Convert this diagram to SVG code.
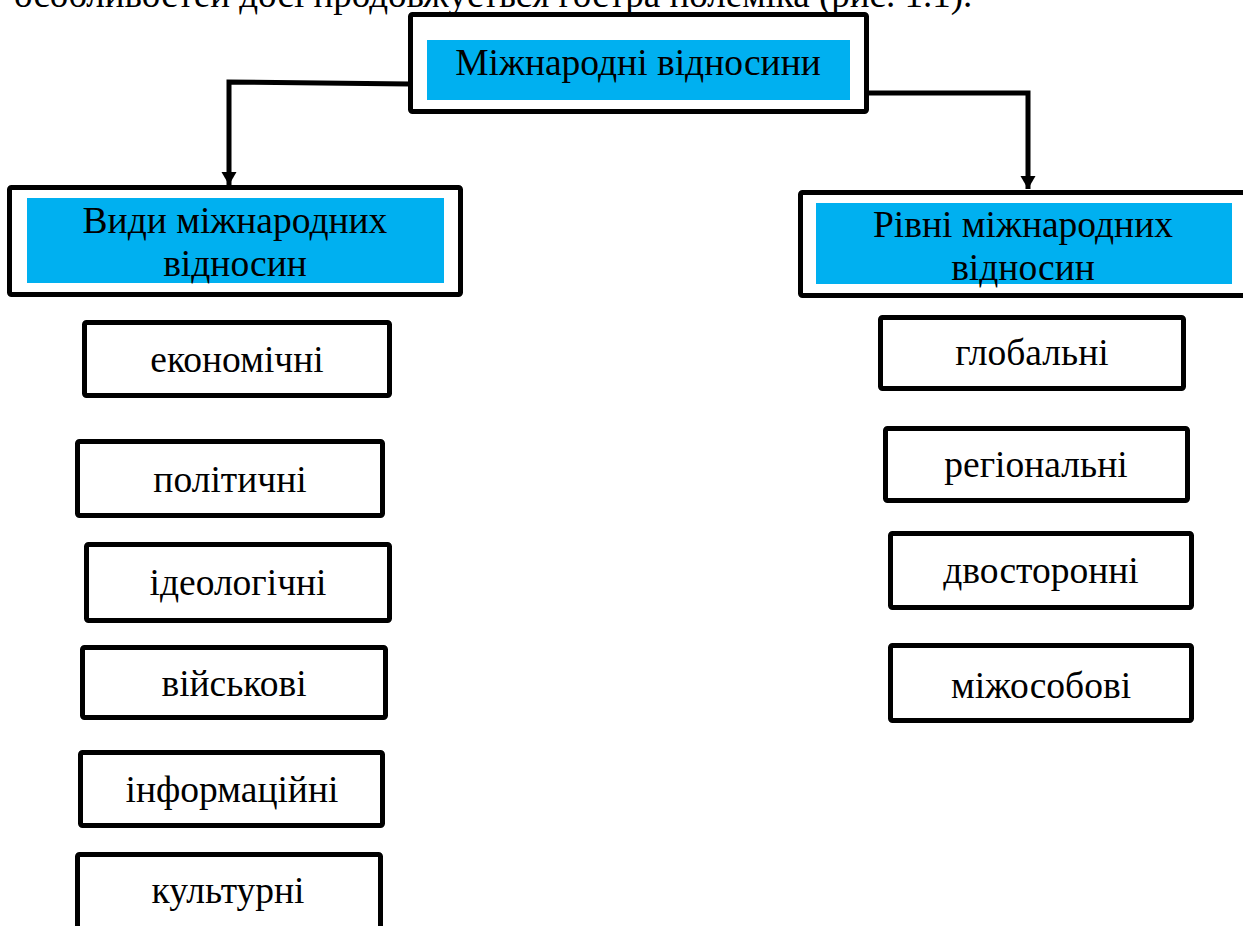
<svg xmlns="http://www.w3.org/2000/svg" width="1243" height="926" viewBox="0 0 1243 926">
<style>
text{font-family:"Liberation Serif","Times New Roman",serif;fill:#000;}
.lbl{font-size:37.5px;text-anchor:middle;}
.box{fill:#fff;stroke:#000;stroke-width:5;}
.hdr{fill:#fff;stroke:#000;stroke-width:5;}
.blue{fill:#00B0F0;stroke:none;}
.conn{fill:none;stroke:#000;stroke-width:5;}
.body{font-size:37px;}
</style>
<defs>
<marker id="arr" markerWidth="14" markerHeight="16" refX="13" refY="8" orient="auto" markerUnits="userSpaceOnUse">
<path d="M0,0.5 L13,8 L0,15.5 Z" fill="#000"/>
</marker>
</defs>
<rect width="1243" height="926" fill="#fff"/>
<text class="body" x="14" y="7">особливостей досі продовжується гостра полеміка (рис. 1.1).</text>
<g id="connectors">
<path class="conn" d="M410,84 L229,82 L229,185" marker-end="url(#arr)"/>
<path class="conn" d="M866,93 L1028,93 L1028,189" marker-end="url(#arr)"/>
</g>
<g id="root">
<rect class="hdr" x="410.5" y="14.5" width="456" height="97" rx="2"/>
<rect class="blue" x="427" y="40" width="423" height="60"/>
<text class="lbl" x="638" y="75">Міжнародні відносини</text>
</g>
<g id="types">
<rect class="hdr" x="9.5" y="187.5" width="451" height="107" rx="2"/>
<rect class="blue" x="27" y="198" width="417" height="85"/>
<text class="lbl" x="235" y="233">Види міжнародних</text>
<text class="lbl" x="235" y="276">відносин</text>
</g>
<g id="levels">
<rect class="hdr" x="800.5" y="192.5" width="450" height="103" rx="2"/>
<rect class="blue" x="816" y="203" width="416" height="81"/>
<text class="lbl" x="1023" y="237">Рівні міжнародних</text>
<text class="lbl" x="1023" y="280">відносин</text>
</g>
<g id="economic"><rect class="box" x="84.5" y="322.5" width="305" height="73" rx="2"/><text class="lbl" x="237" y="372">економічні</text></g>
<g id="political"><rect class="box" x="77.5" y="441.5" width="305" height="74" rx="2"/><text class="lbl" x="230" y="492">політичні</text></g>
<g id="ideological"><rect class="box" x="86.5" y="544.5" width="303" height="76" rx="2"/><text class="lbl" x="238" y="595">ідеологічні</text></g>
<g id="military"><rect class="box" x="82.5" y="647.5" width="303" height="70" rx="2"/><text class="lbl" x="234" y="696">військові</text></g>
<g id="informational"><rect class="box" x="80.5" y="752.5" width="302" height="73" rx="2"/><text class="lbl" x="232" y="802">інформаційні</text></g>
<g id="cultural"><rect class="box" x="77.5" y="854.5" width="303" height="80" rx="2"/><text class="lbl" x="228" y="903">культурні</text></g>
<g id="global"><rect class="box" x="880.5" y="317.5" width="303" height="71" rx="2"/><text class="lbl" x="1032" y="365">глобальні</text></g>
<g id="regional"><rect class="box" x="885.5" y="428.5" width="302" height="72" rx="2"/><text class="lbl" x="1036" y="477">регіональні</text></g>
<g id="bilateral"><rect class="box" x="890.5" y="533.5" width="301" height="74" rx="2"/><text class="lbl" x="1041" y="583">двосторонні</text></g>
<g id="interpersonal"><rect class="box" x="890.5" y="645.5" width="301" height="75" rx="2"/><text class="lbl" x="1041" y="698">міжособові</text></g>
</svg>
